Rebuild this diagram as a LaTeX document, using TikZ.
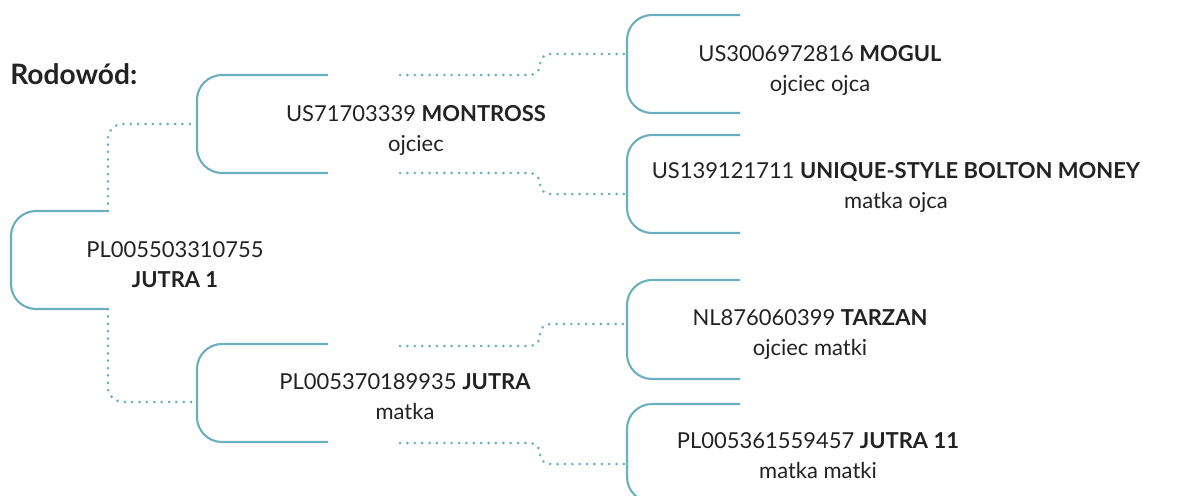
\documentclass[tikz,border=0pt]{standalone}
\usepackage{fontspec}
\setmainfont{Lato}
\usepackage{xcolor}
\definecolor{morski}{HTML}{6AAFBE}
\definecolor{tekst}{HTML}{222222}

\begin{document}
\begin{tikzpicture}[x=0.02cm, y=-0.02cm,
  every node/.style={font=\fontsize{12.5}{17}\selectfont, text=tekst},
  klamra/.style={draw=morski, line width=1.2pt, rounded corners=0.5cm},
  kropki/.style={draw=morski, line width=1.7pt, line cap=round, dash pattern=on 0pt off 4.2pt, rounded corners=0.2cm},
  kon/.style={align=center, anchor=base, inner sep=0pt}]
  \clip (0,0) rectangle (1177,495);

  % Punkty klamer
  \coordinate (j1-t) at (108,211);  \coordinate (j1-b) at (108,309);  \coordinate (j1-l) at (11,260);
  \coordinate (mon-t) at (328,75);  \coordinate (mon-b) at (328,173); \coordinate (mon-l) at (197,124);
  \coordinate (jut-t) at (328,344); \coordinate (jut-b) at (328,442); \coordinate (jut-l) at (197,402);
  \coordinate (mog-t) at (740,15);  \coordinate (mog-b) at (740,113); \coordinate (mog-l) at (627,54);
  \coordinate (uni-t) at (740,135); \coordinate (uni-b) at (740,233); \coordinate (uni-l) at (627,194);
  \coordinate (tar-t) at (740,280); \coordinate (tar-b) at (740,379); \coordinate (tar-l) at (627,324);
  \coordinate (j11-t) at (740,404); \coordinate (j11-b) at (740,502); \coordinate (j11-l) at (627,464);

  % Wyjscia kropek
  \coordinate (mon-o1) at (400,75);  \coordinate (mon-o2) at (400,173);
  \coordinate (jut-o1) at (400,346); \coordinate (jut-o2) at (400,443);

  % Klamry
  \foreach \k in {j1, mon, jut, mog, uni, tar, j11}
    \draw[klamra] (\k-t) -- (\k-t -| \k-l) -- (\k-b -| \k-l) -- (\k-b);

  % Kropki
  \draw[kropki, rounded corners=0.3cm] (j1-t) |- (mon-l);
  \draw[kropki, rounded corners=0.3cm] (j1-b) |- (jut-l);
  \draw[kropki] (mon-o1) -- ++(140,0) |- (mog-l);
  \draw[kropki] (mon-o2) -- ++(140,0) |- (uni-l);
  \draw[kropki] (jut-o1) -- ++(140,0) |- (tar-l);
  \draw[kropki] (jut-o2) -- ++(140,0) |- (j11-l);

  % Napisy
  \node[anchor=base west, inner sep=0pt, font=\fontsize{16}{17}\selectfont\bfseries] (rodowod) at (10,84) {Rodowód:};
  \node[kon] (jutra1) at (175,287) {PL005503310755\\\textbf{JUTRA 1}};
  \node[kon] (montross) at (416,151) {US71703339 \textbf{MONTROSS}\\ojciec};
  \node[kon] (jutra) at (405,419) {PL005370189935 \textbf{JUTRA}\\matka};
  \node[kon] (mogul) at (820,91) {US3006972816 \textbf{MOGUL}\\ojciec ojca};
  \node[kon] (unique) at (896,208) {US139121711 \textbf{UNIQUE-STYLE BOLTON MONEY}\\matka ojca};
  \node[kon] (tarzan) at (810,355) {NL876060399 \textbf{TARZAN}\\ojciec matki};
  \node[kon] (jutra11) at (818,478) {PL005361559457 \textbf{JUTRA 11}\\matka matki};
\end{tikzpicture}
\end{document}
